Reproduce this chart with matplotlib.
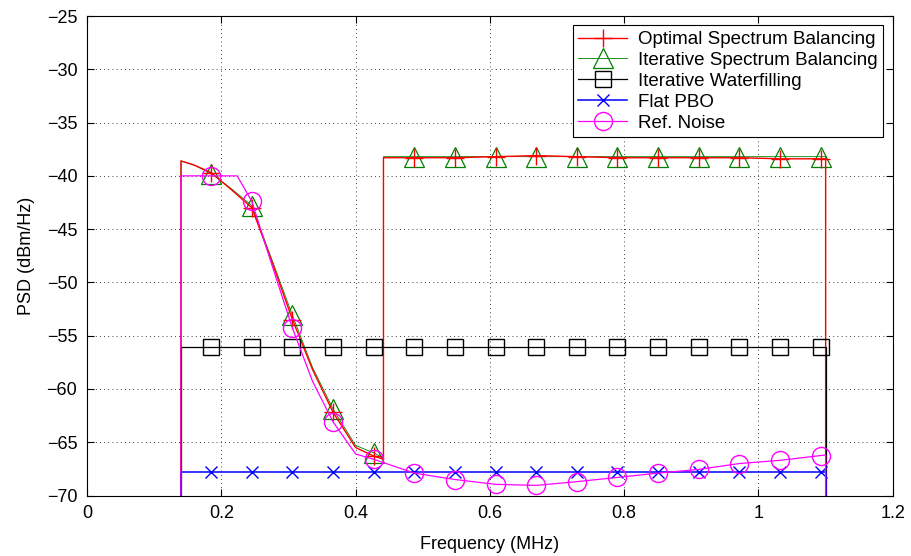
import matplotlib
matplotlib.use("Agg")
import matplotlib.pyplot as plt

plt.rcParams['font.family'] = ['Liberation Sans', 'DejaVu Sans']

# marker frequencies (MHz)
f_mark = [0.185, 0.2455, 0.306, 0.3665, 0.427, 0.4875, 0.548, 0.6085,
          0.669, 0.7295, 0.79, 0.8505, 0.911, 0.9715, 1.032, 1.0925]

# Optimal Spectrum Balancing
osb_f = [0.14, 0.14, 0.16, 0.185, 0.215, 0.2455, 0.275, 0.306, 0.336, 0.3665,
         0.40, 0.427, 0.4415, 0.4415, 0.4875, 0.548, 0.6085, 0.669, 0.7295,
         0.79, 0.8505, 0.911, 0.9715, 1.032, 1.0925, 1.1, 1.1]
osb_psd = [-80, -38.6, -39.0, -39.7, -41.3, -43.0, -48.0, -53.5, -58.2, -62.2,
           -65.5, -66.3, -66.6, -38.3, -38.3, -38.3, -38.2, -38.1, -38.2,
           -38.3, -38.3, -38.3, -38.3, -38.4, -38.4, -38.4, -80]
osb_marks = [3, 5, 7, 9, 11] + list(range(14, 25))

# Iterative Spectrum Balancing
isb_f = [0.14, 0.14, 0.16, 0.185, 0.215, 0.2455, 0.275, 0.306, 0.336, 0.3665,
         0.40, 0.427, 0.4415, 0.4415, 0.4875, 0.548, 0.6085, 0.669, 0.7295,
         0.79, 0.8505, 0.911, 0.9715, 1.032, 1.0925, 1.1, 1.1]
isb_psd = [-80, -38.6, -39.0, -39.8, -41.2, -42.8, -47.8, -53.1, -58.0, -61.9,
           -65.3, -66.0, -66.5, -38.2, -38.2, -38.2, -38.2, -38.2, -38.2,
           -38.2, -38.2, -38.2, -38.2, -38.2, -38.2, -38.2, -80]
isb_marks = osb_marks

# Iterative Waterfilling
iwf_f = [0.14, 0.14] + f_mark + [1.1, 1.1]
iwf_psd = [-80] + [-56.1] * 18 + [-80]

# Flat PBO
pbo_f = [0.14, 0.14] + f_mark + [1.1, 1.1]
pbo_psd = [-80] + [-67.8] * 18 + [-80]

# Ref. Noise
noise_f = [0.14, 0.14, 0.185, 0.2236, 0.2455, 0.275, 0.306, 0.336, 0.3665,
           0.40, 0.427, 0.4875, 0.548, 0.6085, 0.669, 0.7295, 0.79, 0.8505,
           0.911, 0.9715, 1.032, 1.0925, 1.1, 1.1]
noise_psd = [-80, -40.0, -40.0, -40.0, -42.4, -48.3, -54.3, -59.3, -63.1,
             -66.1, -66.6, -67.9, -68.5, -68.95, -69.05, -68.7, -68.3, -67.9,
             -67.55, -67.0, -66.7, -66.25, -66.2, -80]
noise_marks = [2, 4, 6, 8] + list(range(10, 22))

fig = plt.figure(figsize=(9.11, 5.56), dpi=100)
ax = fig.add_axes([0.0955, 0.1088, 0.8845, 0.8624])

lw = 0.9
ax.plot(isb_f, isb_psd, color='g', lw=0.6, marker='^', markersize=14,
        markeredgewidth=0.9, markerfacecolor='none', markevery=isb_marks,
        label='Iterative Spectrum Balancing')
ax.plot(osb_f, osb_psd, color='r', lw=1.0, marker='+', markersize=13,
        markevery=osb_marks, label='Optimal Spectrum Balancing')
ax.plot(iwf_f, iwf_psd, color='k', lw=lw, marker='s', markersize=11,
        markerfacecolor='none', markevery=list(range(2, 18)),
        label='Iterative Waterfilling')
ax.plot(pbo_f, pbo_psd, color='b', lw=1.1, marker='x', markersize=9,
        markevery=list(range(2, 18)), label='Flat PBO')
ax.plot(noise_f, noise_psd, color='magenta', lw=lw, marker='o', markersize=13,
        markerfacecolor='none', markevery=noise_marks, label='Ref. Noise')

ax.set_xlim(0, 1.2)
ax.set_ylim(-70, -25)
ax.set_xticks([0, 0.2, 0.4, 0.6, 0.8, 1.0, 1.2])
ax.set_xticklabels(['0', '0.2', '0.4', '0.6', '0.8', '1', '1.2'])
ax.set_yticks(range(-70, -24, 5))
ax.tick_params(direction='in', top=True, right=True, length=5, labelsize=13,
               pad=7)
ax.grid(True, color='k', linestyle=(0, (1, 4)), lw=0.6)
for s in ax.spines.values():
    s.set_linewidth(0.8)

ax.set_xlabel('Frequency (MHz)', fontsize=13, labelpad=10)
ax.set_ylabel('PSD (dBm/Hz)', fontsize=13, labelpad=8)

# legend order as in the original
h, l = ax.get_legend_handles_labels()
order = [1, 0, 2, 3, 4]
leg = ax.legend([h[i] for i in order], [l[i] for i in order],
                loc='upper right', fontsize=13.5, fancybox=False, framealpha=1,
                edgecolor='k', handlelength=2.6, labelspacing=0.2,
                borderaxespad=0.5, borderpad=0.3, handletextpad=0.6)
leg.get_frame().set_linewidth(0.8)

plt.savefig('out.png')
